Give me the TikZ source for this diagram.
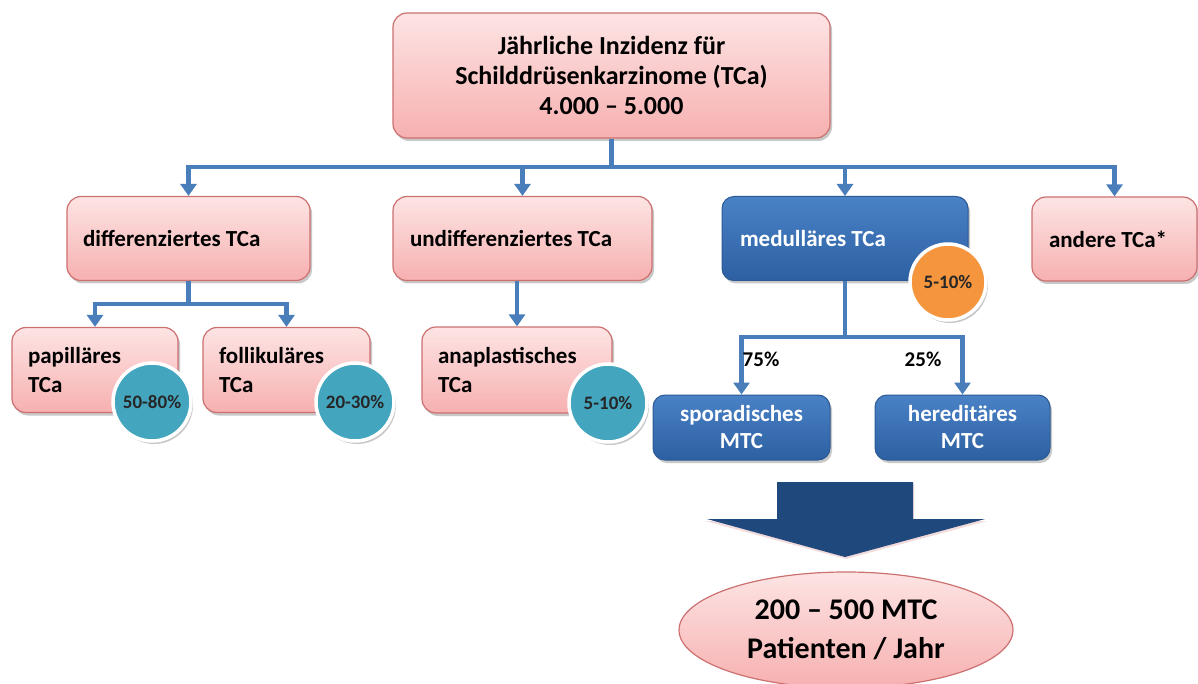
\documentclass[tikz,border=0pt]{standalone}
\usepackage{fontspec}
\setmainfont{Carlito}
\usetikzlibrary{arrows.meta,shapes.geometric,shadows,calc}
\definecolor{pinkT}{RGB}{253,228,228}
\definecolor{pinkB}{RGB}{247,176,176}
\definecolor{pinkD}{RGB}{204,112,112}
\definecolor{blueT}{RGB}{74,130,198}
\definecolor{blueB}{RGB}{44,96,162}
\definecolor{blueD}{RGB}{44,88,148}
\definecolor{lineC}{RGB}{74,126,187}
\definecolor{tealC}{RGB}{68,165,190}
\definecolor{orangeC}{RGB}{245,150,62}
\definecolor{navyC}{RGB}{31,73,125}
\newcommand{\boxfont}{\fontsize{23}{28.5}\selectfont\bfseries}
\tikzset{
  x=1pt, y=-1pt,
  softshadow/.style={drop shadow={shadow xshift=2pt, shadow yshift=-3pt, opacity=0.3, fill=black!70}},
  pinkbox/.style={draw=pinkD, line width=1.2pt, rounded corners=14pt,
    top color=pinkT, bottom color=pinkB, softshadow,
    inner xsep=16pt, inner ysep=0pt, align=flush left, font=\boxfont, text=black},
  bluebox/.style={draw=blueD, line width=1pt, rounded corners=12pt,
    top color=blueT, bottom color=blueB, softshadow,
    inner xsep=16pt, inner ysep=0pt, font=\boxfont, text=white},
  pct/.style={circle, draw=white, line width=3.5pt, minimum size=78pt, inner sep=0pt,
    softshadow, font=\fontsize{19}{22}\selectfont\bfseries, text=black!85},
  conn/.style={draw=lineC, line width=4.5pt},
  arr/.style={conn, -{Triangle[width=16pt,length=12pt]}},
  lbl/.style={font=\fontsize{21}{24}\selectfont\bfseries, text=black, inner sep=0pt}
}
\begin{document}
\begin{tikzpicture}
\useasboundingbox (0,0) rectangle (1198,684);
\fill[white] (0,0) rectangle (1198,684);

% top box
\node[pinkbox, align=flush center, minimum width=437pt, minimum height=125pt, text width=405pt,
  font=\fontsize{26}{30}\selectfont\bfseries] (top) at (611.5,75.5)
  {Jährliche Inzidenz für\\Schilddrüsenkarzinome (TCa)\\4.000 – 5.000};

% second level
\node[pinkbox, text width=211pt, minimum height=84pt] (diff) at (188.5,238.5) {differenziertes TCa};
\node[pinkbox, text width=225pt, inner xsep=17pt, minimum height=84pt] (undiff) at (522.5,238.5) {undifferenziertes TCa};
\node[bluebox, align=flush left, text width=210pt, inner xsep=18pt, minimum height=84pt] (medull) at (845,238.5) {medulläres TCa};
\node[pinkbox, text width=131pt, inner xsep=17pt, minimum height=84pt] (andere) at (1114.5,239) {andere TCa*};

% third level
\node[pinkbox, text width=134pt, minimum height=85pt] (pap) at (95,370) {papilläres\\TCa};
\node[pinkbox, text width=135pt, minimum height=85pt] (foll) at (286.5,370) {follikuläres\\TCa};
\node[pinkbox, text width=158pt, minimum height=86pt] (anap) at (517,370) {anaplastisches\\TCa};
\node[bluebox, align=flush center, text width=145pt, minimum height=65pt,
  font=\fontsize{23}{27}\selectfont\bfseries] (spor) at (741.5,427.5) {sporadisches\\MTC};
\node[bluebox, align=flush center, text width=143pt, minimum height=65pt,
  font=\fontsize{23}{27}\selectfont\bfseries] (here) at (962.5,427.5) {hereditäres\\MTC};

% percentage circles
\node[pct, fill=tealC] (c1) at (152,402) {50-80\%};
\node[pct, fill=tealC] (c2) at (355,402) {20-30\%};
\node[pct, fill=tealC] (c3) at (608,403) {5-10\%};
\node[pct, fill=orangeC, minimum size=76pt] (c4) at (948,282) {5-10\%};

% connectors
\coordinate (hub) at (top.south |- 0,167);
\draw[conn] (top.south) -- (hub);
\draw[arr] (hub) -| (diff.north);
\draw[arr] (hub) -| (undiff.north);
\draw[arr] (hub) -| (medull.north);
\draw[arr] (hub) -| (andere.north);

\coordinate (hub2) at (diff.south |- 0,304);
\draw[conn] (diff.south) -- (hub2);
\draw[arr] (hub2) -| (pap.north);
\draw[arr] (hub2) -| (foll.north);

\draw[arr] (anap.north |- undiff.south) -- (anap.north);

\coordinate (hub3) at (medull.south |- 0,337);
\draw[conn] (medull.south) -- (hub3);
\draw[arr] (hub3) -| (spor.north);
\draw[arr] (hub3) -| (here.north);

\node[lbl] (p75) at (761,359) {75\%};
\node[lbl] (p25) at (923,359) {25\%};

% big arrow
\fill[pinkD, opacity=0.25] (778,484) -- (914,484) -- (914,521) -- (987,521) -- (846,559) -- (705,521) -- (778,521) -- cycle;
\fill[navyC] (777,482) -- (913,482) -- (913,519) -- (985,519) -- (845,557) -- (707,519) -- (777,519) -- cycle;

% result ellipse
\node[ellipse, draw=pinkD, line width=1.2pt, top color=pinkT, bottom color=pinkB,
  minimum width=334pt, minimum height=116pt, inner sep=0pt, align=center,
  font=\fontsize{30}{39}\selectfont\bfseries] (res) at (846,630)
  {200 – 500 MTC\\Patienten / Jahr};
\end{tikzpicture}
\end{document}
